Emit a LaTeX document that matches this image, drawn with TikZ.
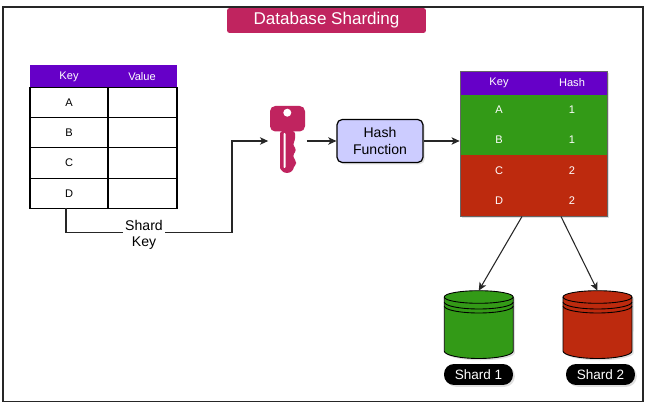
\documentclass[tikz,border=0pt]{standalone}
\usepackage{fontspec}
\setmainfont{Liberation Sans}
\usetikzlibrary{arrows.meta,shadows}
\definecolor{titlered}{HTML}{C0245F}
\definecolor{headpurple}{HTML}{6600C8}
\definecolor{shardgreen}{HTML}{339A17}
\definecolor{shardred}{HTML}{BD2A0E}
\definecolor{hashblue}{HTML}{CCCCFF}
\tikzset{softshadow/.style={drop shadow={shadow xshift=1pt,shadow yshift=-1pt,opacity=.25}}}
\tikzset{link/.style={line width=.6pt,color=black!85}}
\tikzset{tocell/.style={link,-{Stealth[length=4.6pt,width=4.2pt,inset=1.2pt]}}}
\tikzset{cell/.style={draw,line width=.6pt,inner sep=0,font=\fontsize{6.3}{7}\selectfont,minimum height=.606cm}}
\tikzset{head/.style={inner sep=0,text=white,font=\fontsize{6.3}{7}\selectfont}}
\tikzset{band/.style={inner sep=0,minimum width=2.95cm}}
\tikzset{pill/.style={fill=black,text=white,rounded corners=.2cm,inner sep=0,minimum width=1.38cm,minimum height=.42cm,font=\fontsize{7.7}{9}\selectfont,softshadow}}

\begin{document}
\begin{tikzpicture}[x=.02cm,y=-.02cm]
    \useasboundingbox (0,0) rectangle (647,412);
    \fill [white] (0,0) rectangle (647,412);
    \draw [line width=.8pt,color=black!85] (3,7) rectangle (643,401.5);
    \node [fill=titlered,text=white,rounded corners=1.5pt,minimum width=3.98cm,minimum height=.5cm,inner sep=0,font=\fontsize{9.7}{11}\selectfont] (title) at (326.5,20.5) {Database Sharding};

    % key/value table
    \node [fill=headpurple,band,minimum height=.44cm] (keyhead) at (103.5,76) {};
    \node [head] at (69,76.5) {Key};
    \node [head] at (142,76.5) {Value};
    \foreach \name/\y in {A/102.3,B/132.6,C/162.9,D/193.2} {
        \node [cell,minimum width=1.56cm] (key\name) at (69,\y) {\name};
        \node [cell,minimum width=1.38cm] (val\name) at (142.5,\y) {};
    }
    \coordinate (tapD) at (66,208);

    % key icon
    \node [minimum width=.76cm,minimum height=1.24cm,inner sep=0] (keyicon) at (287.5,141) {};
    \fill [titlered,rounded corners=3pt] (270,106) -- (305,106) -- (305,131.5) -- (280,131.5) -- (270,131.5) -- cycle;
    \fill [titlered,rounded corners=1.5pt] (295,131) -- (295,141) -- (292.5,144) -- (296.5,150) -- (292.5,156) -- (296,161) -- (296,165) -- (291,170) -- (280,170) -- (280,131) -- cycle;
    \fill [titlered] (287,166) circle [radius=.14cm];
    \fill [white] (287.3,112.7) circle [radius=.08cm];
    \fill [white,rounded corners=.5pt] (283.5,133) rectangle (285.5,168);

    \node [draw,fill=hashblue,rounded corners=3pt,line width=.7pt,minimum width=1.72cm,minimum height=.86cm,inner sep=0,align=center,font=\fontsize{8}{9.6}\selectfont,softshadow] (hashfn) at (380,141) {Hash\\Function};

    % key/hash table
    \node [fill=shardred,band,minimum height=2.9cm,softshadow] (hashtab) at (533.75,143.5) {};
    \node [fill=headpurple,band,minimum height=.48cm] (hashhead) at (533.75,83) {};
    \node [fill=shardgreen,band,minimum height=1.21cm] (greenrows) at (533.75,125.25) {};
    \node [fill=shardred,band,minimum height=1.21cm] (redrows) at (533.75,185.75) {};
    \node [draw=black!60,line width=.3pt,band,minimum height=2.9cm] (hashedge) at (533.75,143.5) {};
    \node [head] at (499,83) {Key};
    \node [head] at (572,83) {Hash};
    \foreach \name/\num/\y in {A/1/110,B/1/140,C/2/170.5,D/2/200.5} {
        \node [head] (hash\name) at (499,\y) {\name};
        \node [head] (num\name) at (572,\y) {\num};
    }
    \coordinate (outone) at (522,216.5);
    \coordinate (outtwo) at (561,216.5);

    % shards
    \foreach \name/\x/\col in {one/478.75/shardgreen,two/597.5/shardred} {
        \begin{scope}[shift={(\x,0)}]
            \node [minimum width=1.38cm,minimum height=1.36cm,inner sep=0] (shard\name) at (0,325) {};
            \draw [fill=\col,line width=.5pt,softshadow] (-34.5,297) -- (-34.5,351) arc [start angle=180,end angle=360,x radius=.69cm,y radius=.15cm] -- (34.5,297) arc [start angle=0,end angle=180,x radius=.69cm,y radius=.126cm] -- cycle;
            \draw [line width=.5pt] (-34.5,297) arc [start angle=180,end angle=360,x radius=.69cm,y radius=.126cm];
            \draw [line width=.5pt] (-34.5,302) arc [start angle=180,end angle=360,x radius=.69cm,y radius=.14cm];
            \draw [line width=.5pt] (-34.5,306) arc [start angle=180,end angle=360,x radius=.69cm,y radius=.14cm];
        \end{scope}
    }
    \node [pill] (labelone) at (478.5,374.5) {Shard 1};
    \node [pill] (labeltwo) at (600.5,374.5) {Shard 2};

    % connectors
    \draw [tocell] (tapD) |- (232,232.5) |- (keyicon.west);
    \node [fill=white,inner sep=1pt,align=center,font=\fontsize{8}{9.2}\selectfont] (shardkey) at (144,234.5) {Shard\\Key};
    \draw [tocell] (keyicon.east) -- (hashfn.west);
    \draw [tocell] (hashfn.east) -- (hashfn.east -| hashtab.west);
    \draw [tocell] (outone) -- (shardone.north);
    \draw [tocell] (outtwo) -- (shardtwo.north);
\end{tikzpicture}
\end{document}
